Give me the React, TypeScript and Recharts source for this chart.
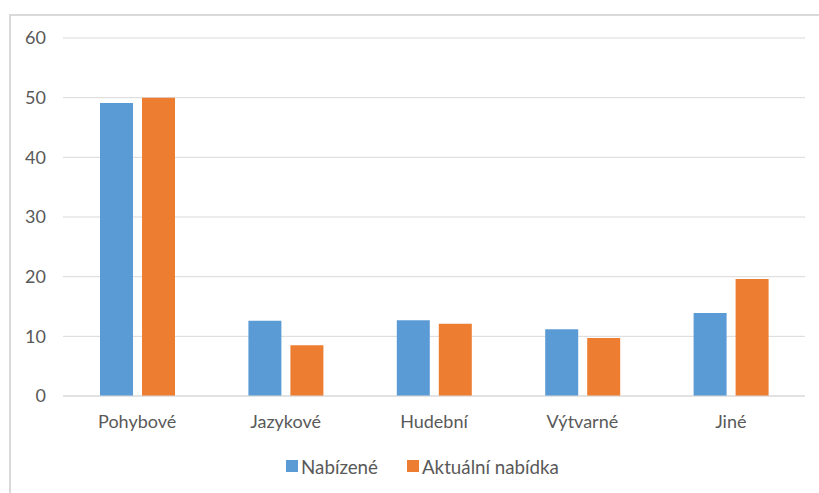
import { Bar, BarChart, CartesianGrid, Legend, XAxis, YAxis } from 'recharts';

const categories = ['Pohybové', 'Jazykové', 'Hudební', 'Výtvarné', 'Jiné'];
const nabizene = [49.1, 12.6, 12.7, 11.2, 13.9];
const aktualni = [50, 8.5, 12.1, 9.7, 19.6];
const yTicks = [0, 10, 20, 30, 40, 50, 60];
const seriesOrder = ['nabizene', 'aktualni'];

const data = categories.map((name, i) => ({ name, nabizene: nabizene[i], aktualni: aktualni[i] }));

const FONT = 'Lato, "Open Sans", sans-serif';
const TEXT = '#595959';

function LegendContent({ payload }: { payload?: any[] }) {
  const items = [...(payload || [])].sort((a, b) => seriesOrder.indexOf(a.dataKey) - seriesOrder.indexOf(b.dataKey));
  return (
    <div style={{ display: 'flex', justifyContent: 'center', alignItems: 'center', height: 20, paddingLeft: 40, fontFamily: FONT, fontSize: 18.75, color: TEXT }}>
      {items.map((p, i) => (
        <span key={i} style={{ display: 'flex', alignItems: 'center', marginLeft: i ? 29 : 0 }}>
          <span style={{ width: 12, height: 12, background: p.color, marginRight: 3, display: 'inline-block' }} />
          {p.value}
        </span>
      ))}
    </div>
  );
}

export default function App() {
  return (
    <div style={{ position: 'fixed', left: 0, top: 0, width: 819, height: 493, overflow: 'hidden', background: '#fff' }}>
      <div style={{ position: 'absolute', left: 9, top: 14, width: 900, height: 600, border: '2px solid #d9d9d9' }} />
      <div style={{ position: 'absolute', left: 0, top: 0 }}>
        <BarChart width={819} height={493} data={data} margin={{ top: 38, right: 14, left: 0, bottom: 17 }} barSize={33} barGap={9}>
          <CartesianGrid horizontal vertical={false} stroke="#d9d9d9" />
          <XAxis dataKey="name" height={60} axisLine={{ stroke: '#d9d9d9' }} tickLine={false} tickSize={0} tickMargin={19}
            tick={{ fontSize: 18, fill: TEXT, fontFamily: FONT }} />
          <YAxis width={63} domain={[0, 60]} ticks={yTicks} axisLine={false} tickLine={false} tickSize={0} tickMargin={17}
            tick={{ fontSize: 18, fill: TEXT, fontFamily: FONT }} />
          <Legend verticalAlign="bottom" content={<LegendContent />} />
          <Bar dataKey="nabizene" name="Nabízené" fill="#5B9BD5" isAnimationActive={false} />
          <Bar dataKey="aktualni" name="Aktuální nabídka" fill="#ED7D31" isAnimationActive={false} />
        </BarChart>
      </div>
    </div>
  );
}
